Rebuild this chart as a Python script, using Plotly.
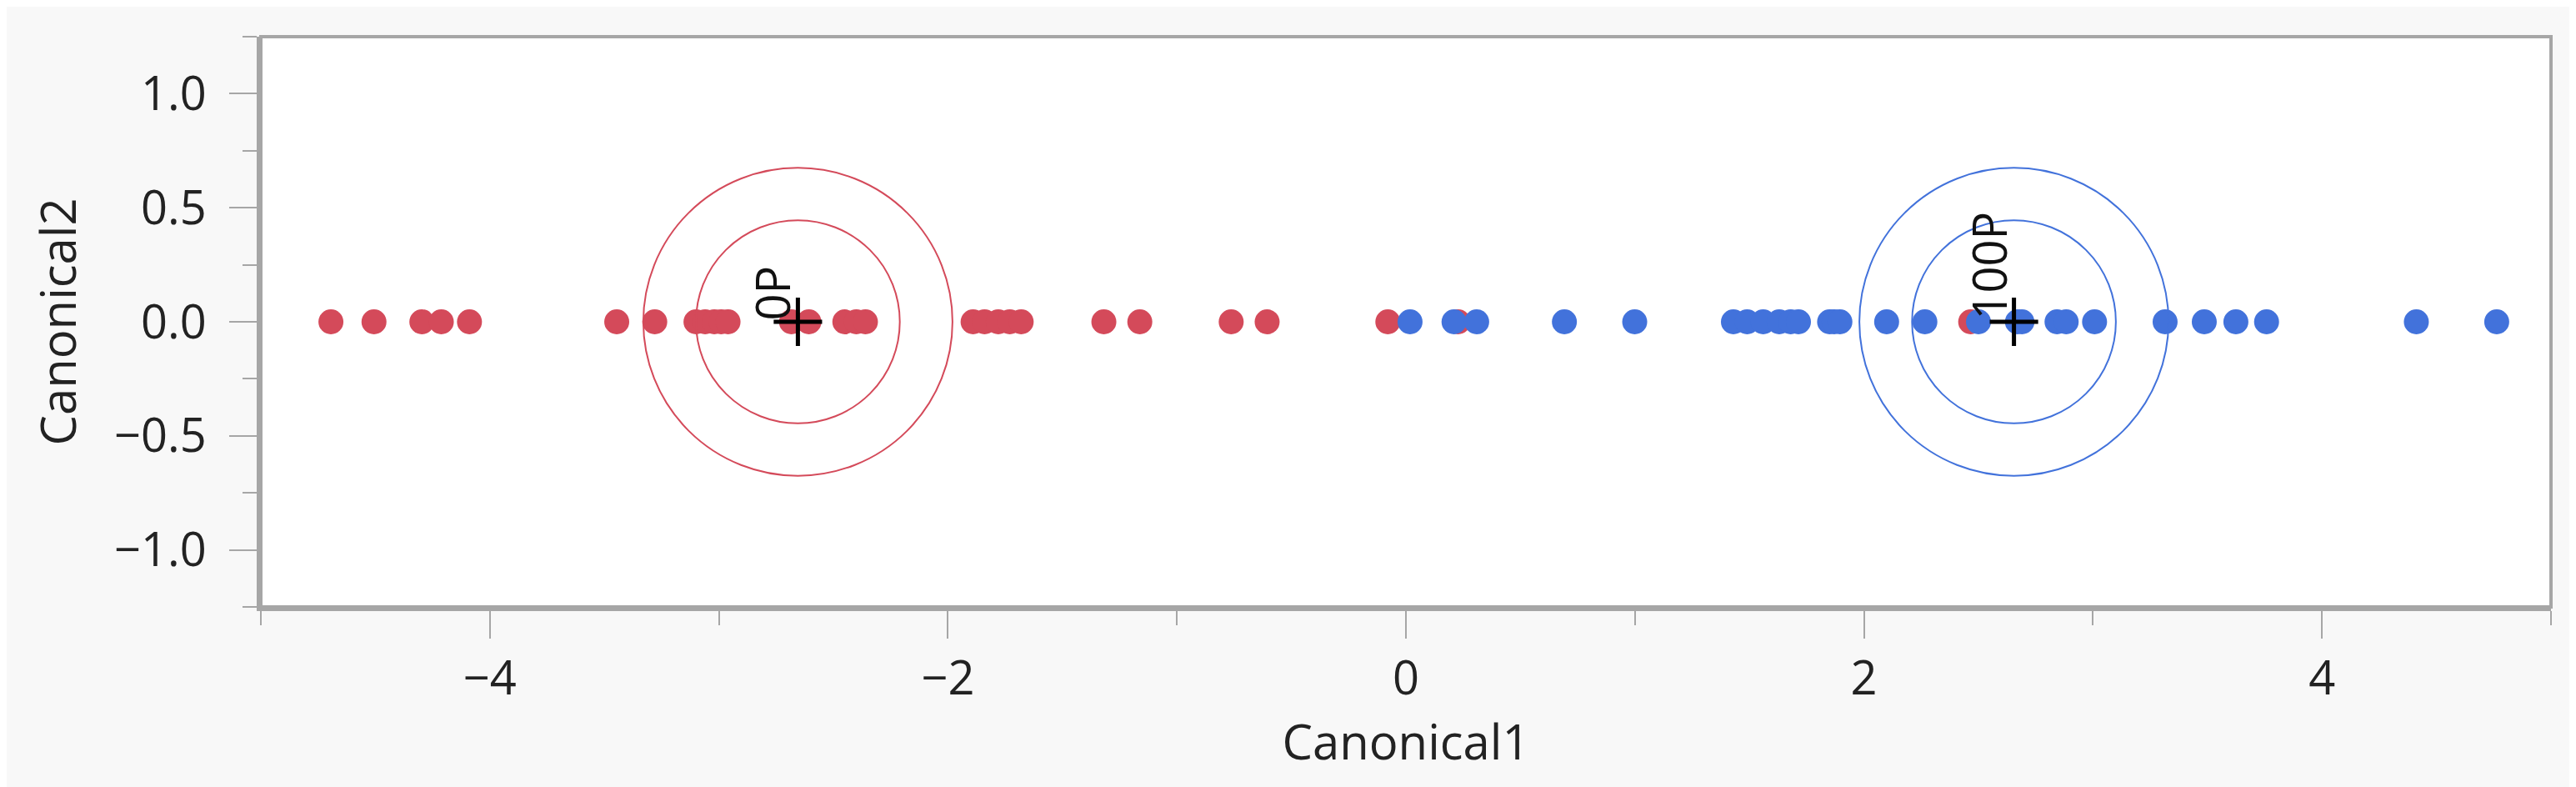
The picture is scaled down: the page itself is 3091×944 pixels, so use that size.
"""Canonical plot (Canonical1 vs Canonical2) rebuilt with Plotly."""

import plotly.graph_objects as go

# Canonical scores per group (Canonical2 is zero: only two groups)
red_c1 = [-4.694, -4.506, -4.297, -4.212, -4.089, -3.446, -3.280,
          -3.100, -3.060, -3.020, -2.990, -2.960, -2.683, -2.607,
          -2.450, -2.400, -2.360, -1.890, -1.840, -1.780, -1.730, -1.680,
          -1.319, -1.162, -0.763, -0.606, -0.079, 0.228, 2.466]
red_c2 = [0.0, 0.0, 0.0, 0.0, 0.0, 0.0, 0.0, 0.0, 0.0, 0.0, 0.0, 0.0,
          0.0, 0.0, 0.0, 0.0, 0.0, 0.0, 0.0, 0.0, 0.0, 0.0, 0.0, 0.0,
          0.0, 0.0, 0.0, 0.0, 0.0]
blue_c1 = [0.018, 0.210, 0.309, 0.692, 0.999, 1.430, 1.490, 1.560,
           1.630, 1.680, 1.714, 1.850, 1.870, 1.895, 2.099, 2.266,
           2.500, 2.670, 2.690, 2.843, 2.883, 3.007, 3.315, 3.486,
           3.624, 3.758, 4.412, 4.763]
blue_c2 = [0.0, 0.0, 0.0, 0.0, 0.0, 0.0, 0.0, 0.0, 0.0, 0.0, 0.0, 0.0,
           0.0, 0.0, 0.0, 0.0, 0.0, 0.0, 0.0, 0.0, 0.0, 0.0, 0.0, 0.0,
           0.0, 0.0, 0.0, 0.0]

group_names = ["0P", "100P"]
group_colors = ["#D44A5A", "#4272DB"]
mean_c1 = [-2.655, 2.655]
mean_c2 = [0.0, 0.0]
circle_radii = [0.445, 0.675]   # inner / outer circle around each mean

FONT = "Open Sans"
GRID = "#A6A6A6"

fig = go.Figure()

fig.add_trace(go.Scatter(
    x=red_c1, y=red_c2, mode="markers",
    marker=dict(size=30, color=group_colors[0], line=dict(width=0)),
    name=group_names[0], showlegend=False,
))
fig.add_trace(go.Scatter(
    x=blue_c1, y=blue_c2, mode="markers",
    marker=dict(size=30, color=group_colors[1], line=dict(width=0)),
    name=group_names[1], showlegend=False,
))

# Circles around the group means
for cx, cy, col in zip(mean_c1, mean_c2, group_colors):
    for r in circle_radii:
        fig.add_shape(type="circle", xref="x", yref="y",
                      x0=cx - r, x1=cx + r, y0=cy - r, y1=cy + r,
                      line=dict(color=col, width=2), layer="above")

# Mean markers
fig.add_trace(go.Scatter(
    x=mean_c1, y=mean_c2, mode="markers",
    marker=dict(symbol="cross-thin", size=41.5,
                line=dict(color="black", width=5)),
    showlegend=False, hoverinfo="skip",
))

# Group labels, rotated, sitting on the mean
for cx, cy, name in zip(mean_c1, mean_c2, group_names):
    fig.add_annotation(x=cx, y=cy, text=name, showarrow=False,
                       textangle=-90, xanchor="right", yanchor="bottom",
                       xshift=9, yshift=0,
                       font=dict(family=FONT, size=56, color="#111111"))

# Plot frame
fig.add_shape(type="rect", xref="x domain", yref="y domain",
              x0=0, x1=1, y0=0, y1=1,
              line=dict(color=GRID, width=4), layer="above")

axis_common = dict(
    showgrid=False, zeroline=False,
    showline=True, linecolor=GRID, linewidth=5,
    ticks="outside", ticklen=33, tickwidth=2, tickcolor=GRID,
    tickfont=dict(family=FONT, size=56, color="#222222"),
    title_font=dict(family=FONT, size=58, color="#222222"),
)

fig.update_xaxes(
    range=[-5, 5], dtick=2, tick0=0,
    minor=dict(dtick=1, ticklen=17, tickwidth=2, tickcolor=GRID, ticks="outside"),
    title_text="Canonical1", title_standoff=8, ticklabelstandoff=0,
    **axis_common,
)
fig.update_yaxes(
    range=[-1.25, 1.25], dtick=0.5, tick0=0, tickformat=".1f",
    minor=dict(dtick=0.25, ticklen=17, tickwidth=2, tickcolor=GRID, ticks="outside"),
    title_text="Canonical2", title_standoff=28, ticklabelstandoff=16,
    **axis_common,
)

fig.update_layout(
    width=3091, height=944,
    margin=dict(l=305, r=38, t=36, b=224, autoexpand=False),
    paper_bgcolor="#F8F8F8", plot_bgcolor="white",
    font=dict(family=FONT),
    showlegend=False,
)

fig.write_html("out.html")
